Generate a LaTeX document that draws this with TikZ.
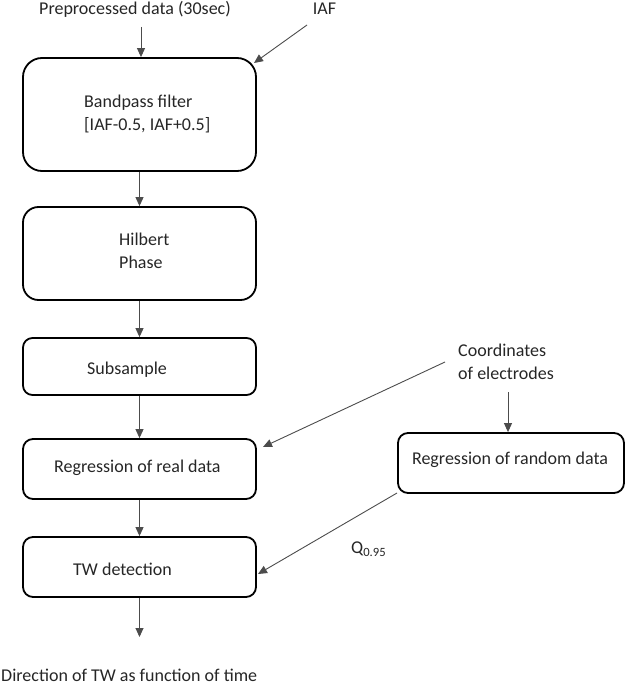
\documentclass[tikz,border=0pt]{standalone}
\usepackage{fontspec}
\setmainfont{Carlito}
\usetikzlibrary{arrows.meta}
\begin{document}
\begin{tikzpicture}[x=1pt,y=-1pt,
  box/.style={draw=black, line width=1.8pt, inner sep=0pt},
  lbl/.style={font=\fontsize{18}{23}\selectfont, inner sep=0pt, text=black!85, align=left},
  arr/.style={draw=black!70, line width=0.9pt, -{Triangle[length=9pt,width=8pt]}}]
\useasboundingbox (0,0) rectangle (626,685);
% boxes
\node[box, minimum width=233pt, minimum height=113pt, rounded corners=19pt] (bp) at (139.5,114.5) {};
\node[box, minimum width=233pt, minimum height=93pt, rounded corners=15.5pt] (hp) at (139.5,253.5) {};
\node[box, minimum width=233pt, minimum height=57pt, rounded corners=9.5pt] (ss) at (139.5,366.5) {};
\node[box, minimum width=233pt, minimum height=60pt, rounded corners=10pt] (rr) at (139.5,469) {};
\node[box, minimum width=233pt, minimum height=60pt, rounded corners=10pt] (tw) at (139.5,567) {};
\node[box, minimum width=226pt, minimum height=60pt, rounded corners=10pt] (rd) at (511,463) {};
% texts
\node[lbl] (pre) at (135,9) {Preprocessed data (30sec)};
\node[lbl] (iaf) at (324.5,9) {IAF};
\node[lbl, anchor=west] (bpt) at (84,114) {Bandpass filter\\{}[IAF-0.5, IAF+0.5]};
\node[lbl, anchor=west] (hpt) at (119,250.5) {Hilbert\\Phase};
\node[lbl, anchor=west] (sst) at (87,369.5) {Subsample};
\node[lbl, anchor=west] (rrt) at (54,467.5) {Regression of real data};
\node[lbl, anchor=west] (twt) at (73,569.5) {TW detection};
\node[lbl, anchor=west] (coo) at (458,362) {Coordinates\\of electrodes};
\node[lbl] (rdt) at (510,459.5) {Regression of random data};
\node[lbl, anchor=west] (q) at (351,549) {Q\textsubscript{0.95}};
\node[lbl, anchor=west] (dir) at (1,675) {Direction of TW as function of time};
% connector endpoints
\coordinate (s1) at (141,27);
\coordinate (s2) at (307,25);
\coordinate (e2) at (254,63);
\coordinate (s3) at (445,362);
\coordinate (e3) at (263,447);
\coordinate (s4) at (508,392);
\coordinate (s5) at (397,493);
\coordinate (e5) at (258,574);
\coordinate (out) at (139.5,637);
% connectors
\draw[arr] (s1) -- (s1 |- bp.north);
\draw[arr] (s2) -- (e2);
\draw[arr] (bp.south) -- (hp.north);
\draw[arr] (hp.south) -- (ss.north);
\draw[arr] (ss.south) -- (rr.north);
\draw[arr] (rr.south) -- (tw.north);
\draw[arr] (tw.south) -- (out);
\draw[arr] (s3) -- (e3);
\draw[arr] (s4) -- (s4 |- rd.north);
\draw[arr] (s5) -- (e5);
\end{tikzpicture}
\end{document}
